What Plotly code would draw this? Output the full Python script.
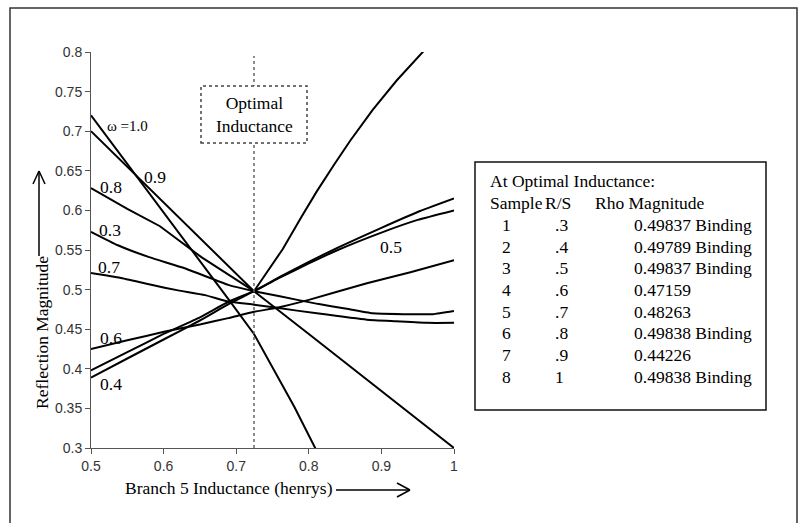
import plotly.graph_objects as go

# ---------------- data ----------------
x_w03 = [0.5, 0.537, 0.58, 0.629, 0.689, 0.7245, 0.76, 0.812, 0.85, 0.888, 0.93, 0.971, 1.0]
y_w03 = [0.573, 0.556, 0.541, 0.527, 0.506, 0.498, 0.4915, 0.482, 0.476, 0.470, 0.469, 0.469, 0.473]

x_w04 = [0.5, 0.55, 0.6, 0.65, 0.69, 0.7245, 0.76, 0.8, 0.84, 0.9, 0.95, 1.0]
y_w04 = [0.389, 0.413, 0.437, 0.461, 0.482, 0.498, 0.516, 0.535, 0.553, 0.578, 0.598, 0.615]

x_w05 = [0.5, 0.55, 0.6, 0.65, 0.69, 0.7245, 0.76, 0.8, 0.84, 0.9, 0.95, 1.0]
y_w05 = [0.398, 0.421, 0.444, 0.465, 0.485, 0.498, 0.515, 0.533, 0.550, 0.572, 0.588, 0.600]

x_w06 = [0.5, 0.55, 0.602, 0.65, 0.689, 0.7245, 0.756, 0.8, 0.88, 0.94, 1.0]
y_w06 = [0.425, 0.436, 0.447, 0.456, 0.464, 0.472, 0.477, 0.487, 0.508, 0.522, 0.537]

x_w07 = [0.5, 0.54, 0.583, 0.62, 0.657, 0.689, 0.7245, 0.756, 0.811, 0.88, 0.92, 0.963, 1.0]
y_w07 = [0.521, 0.515, 0.506, 0.499, 0.493, 0.485, 0.481, 0.477, 0.470, 0.462, 0.460, 0.458, 0.458]

x_w08 = [0.5, 0.55, 0.595, 0.652, 0.7245, 0.745, 0.764, 0.79, 0.811, 0.835, 0.857, 0.888, 0.921, 0.963]
y_w08 = [0.628, 0.602, 0.580, 0.541, 0.498, 0.525, 0.551, 0.592, 0.624, 0.658, 0.688, 0.727, 0.764, 0.806]

x_w09 = [0.5, 0.6, 0.65, 0.69, 0.7245, 0.75, 0.78, 0.811]
y_w09 = [0.72, 0.598, 0.537, 0.487, 0.444, 0.402, 0.352, 0.296]

x_w10 = [0.5, 0.55, 0.6, 0.65, 0.7, 0.7245, 0.8, 0.9, 1.0]
y_w10 = [0.70, 0.655, 0.61, 0.565, 0.52, 0.498, 0.444, 0.372, 0.30]

x_ticks = [0.5, 0.6, 0.7, 0.8, 0.9, 1.0]
x_ticklabels = ["0.5", "0.6", "0.7", "0.8", "0.9", "1"]
y_ticks = [0.3, 0.35, 0.4, 0.45, 0.5, 0.55, 0.6, 0.65, 0.7, 0.75, 0.8]
y_ticklabels = ["0.3", "0.35", "0.4", "0.45", "0.5", "0.55", "0.6", "0.65", "0.7", "0.75", "0.8"]

optimal_L = 0.7245

curve_labels = ["ω =1.0", "0.9", "0.8", "0.3", "0.7", "0.6", "0.4", "0.5"]
label_x = [0.5503, 0.588, 0.5275, 0.526, 0.5248, 0.5275, 0.5275, 0.913]
label_y = [0.7066, 0.642, 0.6295, 0.5753, 0.5285, 0.4389, 0.3808, 0.5538]

samples = ["1", "2", "3", "4", "5", "6", "7", "8"]
rs_values = [".3", ".4", ".5", ".6", ".7", ".8", ".9", "1"]
rho_values = ["0.49837", "0.49789", "0.49837", "0.47159", "0.48263", "0.49838", "0.44226", "0.49838"]
binding = [True, True, True, False, False, True, False, True]

# ---------------- layout helpers ----------------
W, H = 801, 523
L, R, T, B = 91, 454, 52, 448


def px(xp):
    return (xp - L) / (R - L)


def py(yp):
    return (B - yp) / (B - T)


SERIF = "Liberation Serif, Times New Roman, serif"
SANS = "Liberation Sans, Arial, sans-serif"

fig = go.Figure()
series = [(x_w03, y_w03, "0.3", "spline"), (x_w04, y_w04, "0.4", "spline"),
          (x_w05, y_w05, "0.5", "spline"), (x_w06, y_w06, "0.6", "spline"),
          (x_w07, y_w07, "0.7", "spline"), (x_w08, y_w08, "0.8", "linear"),
          (x_w09, y_w09, "0.9", "linear"), (x_w10, y_w10, "1.0", "linear")]
for xs, ys, nm, shp in series:
    line = dict(color="#000000", width=2, shape=shp)
    if shp == "spline":
        line["smoothing"] = 0.4
    fig.add_trace(go.Scatter(x=xs, y=ys, mode="lines", name=nm, line=line, showlegend=False))

shapes = []
# outer frame
shapes.append(dict(type="rect", xref="paper", yref="paper",
                   x0=px(10), x1=px(797), y0=py(540), y1=py(8),
                   line=dict(color="#333333", width=1.5), layer="below"))
# optimal vertical dotted line
shapes.append(dict(type="line", xref="x", yref="y", x0=optimal_L, x1=optimal_L,
                   y0=0.3, y1=0.795, line=dict(color="#666666", width=1.5, dash="dot"),
                   layer="above"))
# optimal inductance box
shapes.append(dict(type="rect", xref="paper", yref="paper",
                   x0=px(201), x1=px(307), y0=py(143), y1=py(86),
                   line=dict(color="#444444", width=1.5, dash="dot"),
                   fillcolor="white", layer="above"))
# table box
shapes.append(dict(type="rect", xref="paper", yref="paper",
                   x0=px(475), x1=px(766), y0=py(410), y1=py(162),
                   line=dict(color="#111111", width=1.5), fillcolor="white", layer="above"))
# y arrow
shapes.append(dict(type="line", xref="paper", yref="paper", x0=px(39), x1=px(39),
                   y0=py(256), y1=py(171), line=dict(color="#000", width=1.5)))
shapes.append(dict(type="line", xref="paper", yref="paper", x0=px(33), x1=px(39),
                   y0=py(184), y1=py(171), line=dict(color="#000", width=1.5)))
shapes.append(dict(type="line", xref="paper", yref="paper", x0=px(45), x1=px(39),
                   y0=py(184), y1=py(171), line=dict(color="#000", width=1.5)))
# x arrow
shapes.append(dict(type="line", xref="paper", yref="paper", x0=px(336), x1=px(410),
                   y0=py(490), y1=py(490), line=dict(color="#000", width=1.5)))
shapes.append(dict(type="line", xref="paper", yref="paper", x0=px(397), x1=px(410),
                   y0=py(483), y1=py(490), line=dict(color="#000", width=1.5)))
shapes.append(dict(type="line", xref="paper", yref="paper", x0=px(397), x1=px(410),
                   y0=py(497), y1=py(490), line=dict(color="#000", width=1.5)))

FONT = dict(family=SERIF, size=17.5, color="#000")


def text_ann(text, xp, yp, xanchor="center", **kw):
    return dict(text=text, x=px(xp), y=py(yp), xref="paper", yref="paper",
                xanchor=xanchor, yanchor="middle", showarrow=False, font=FONT, **kw)


ann = []
# curve labels
for t, lx, ly in zip(curve_labels, label_x, label_y):
    size = 15 if t.startswith("ω") else 17.5
    ann.append(dict(text=t, x=lx, y=ly, xref="x", yref="y", showarrow=False,
                    xanchor="center", yanchor="middle",
                    font=dict(family=SERIF, size=size, color="#000")))
# optimal box text
ann.append(text_ann("Optimal<br>Inductance", 254, 115))
# axis titles
ann.append(text_ann("Reflection Magnitude", 42, 333, textangle=-90))
ann.append(text_ann("Branch 5 Inductance (henrys)", 229, 488))
# table text
row0 = 181.4
dy = 21.7
ann.append(text_ann("At Optimal Inductance:", 488, row0, xanchor="left"))
ann.append(text_ann("Sample", 488, row0 + dy, xanchor="left"))
ann.append(text_ann("R/S", 543, row0 + dy, xanchor="left"))
ann.append(text_ann("Rho Magnitude", 593, row0 + dy, xanchor="left"))
for i, (s, r, rho, b) in enumerate(zip(samples, rs_values, rho_values, binding)):
    yy = row0 + dy * (i + 2)
    ann.append(text_ann(s, 506.5, yy, xanchor="center"))
    ann.append(text_ann(r, 553, yy, xanchor="left"))
    ann.append(text_ann(rho + (" Binding" if b else ""), 632, yy, xanchor="left"))

fig.update_layout(
    width=W, height=H,
    margin=dict(l=L, r=W - R, t=T, b=H - B, pad=0),
    paper_bgcolor="white", plot_bgcolor="white",
    shapes=shapes, annotations=ann, showlegend=False,
    xaxis=dict(range=[0.5, 1.0], tickvals=x_ticks, ticktext=x_ticklabels, showgrid=False,
               zeroline=False, showline=True, linecolor="#555555", linewidth=1,
               ticks="outside", ticklen=5, tickcolor="#555555",
               tickfont=dict(family=SANS, size=14, color="#333333")),
    yaxis=dict(range=[0.3, 0.8], tickvals=y_ticks, ticktext=y_ticklabels, showgrid=False,
               zeroline=False, showline=True, linecolor="#555555", linewidth=1,
               ticks="outside", ticklen=5, tickcolor="#555555",
               tickfont=dict(family=SANS, size=14, color="#333333")),
)

fig.write_html("out.html")
